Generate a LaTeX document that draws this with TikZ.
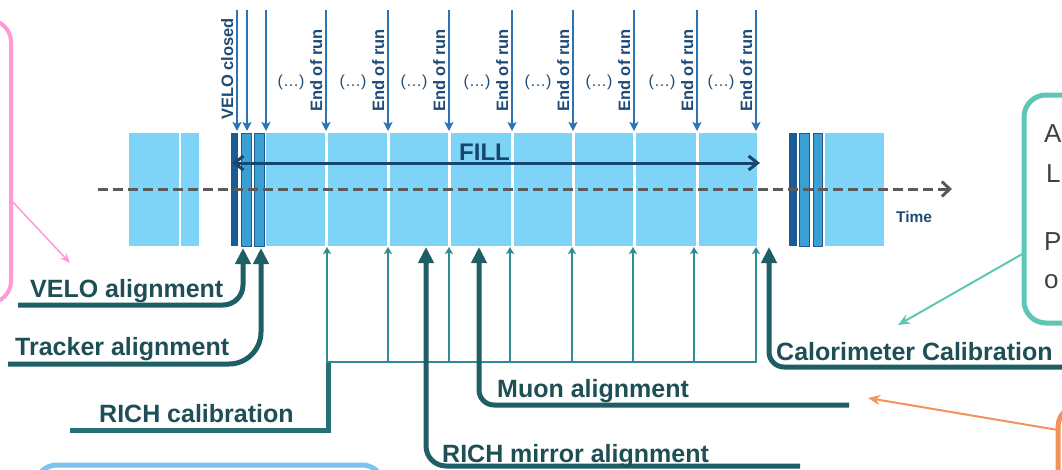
\documentclass[tikz,border=0pt]{standalone}
\usepackage{fontspec}
\setmainfont{Liberation Sans}
\usetikzlibrary{arrows.meta}
\definecolor{lightblk}{HTML}{7ED4F7}
\definecolor{midbar}{HTML}{3A9FD3}
\definecolor{midborder}{HTML}{24588A}
\definecolor{darkbar}{HTML}{1B5C96}
\definecolor{toparrow}{HTML}{2B75B6}
\definecolor{toptext}{HTML}{1F4B78}
\definecolor{fillc}{HTML}{17466F}
\definecolor{dashc}{HTML}{5A5A5A}
\definecolor{thinteal}{HTML}{2E8C92}
\definecolor{thickteal}{HTML}{1F5E64}
\definecolor{labeltext}{HTML}{1E4F55}
\definecolor{pinkc}{HTML}{FF9AD5}
\definecolor{tealbox}{HTML}{5CC7B5}
\definecolor{orangec}{HTML}{F4925B}
\definecolor{bluebox}{HTML}{7DC3EF}
\begin{document}
\begin{tikzpicture}[x=1pt,y=-1pt,
  toparr/.style={draw=toparrow,line width=2.8pt,-{Stealth[length=9pt,width=9pt,inset=2pt]}},
  thinarr/.style={draw=thinteal,line width=2.6pt,-{Stealth[length=7pt,width=8pt,inset=1.5pt]}},
  thickarr/.style={draw=thickteal,line width=5pt,-{Triangle[length=16pt,width=15pt]}},
  rottext/.style={rotate=90,anchor=base west,inner sep=0pt,text=toptext,font=\fontsize{16.5}{18}\selectfont\bfseries},
  dots/.style={inner sep=0pt,text=toptext,font=\fontsize{16}{18}\selectfont},
  lbl/.style={anchor=base west,inner sep=0pt,text=labeltext,font=\fontsize{25}{29}\selectfont\bfseries},
  boxtext/.style={anchor=base west,inner sep=0pt,text=black!75,font=\fontsize{26}{30}\selectfont},
  callout/.style={line width=5pt,rounded corners=22pt}
]
\clip (0,0) rectangle (1062,469);
\fill[white] (0,0) rectangle (1062,469);

% blocks
\fill[lightblk] (129,133) rectangle (199,246);
\draw[white,line width=2pt] (180,133) -- (180,246);
\fill[lightblk] (266,133) rectangle (757,246);
\foreach \x in {326,388,449,512,573,634,697}
  \draw[white,line width=3pt] (\x,133) -- (\x,246);
\fill[darkbar] (231,133) rectangle (238,246);
\filldraw[fill=midbar,draw=midborder,line width=1pt] (241,133) rectangle (251,246);
\filldraw[fill=midbar,draw=midborder,line width=1pt] (254,133) rectangle (264,246);

\fill[darkbar] (789,133) rectangle (797,246);
\filldraw[fill=midbar,draw=midborder,line width=1pt] (799.5,133) rectangle (809,246);
\filldraw[fill=midbar,draw=midborder,line width=1pt] (813,133) rectangle (822.5,246);
\fill[lightblk] (825,133) rectangle (884,246);

% time axis
\coordinate (tstart) at (98,189);
\coordinate (tend) at (952,189);
\draw[dashc,line width=3pt,dash pattern=on 10pt off 5pt,-{Straight Barb[length=8pt,width=15pt]}] (tstart) -- (tend);
\node[anchor=base west,inner sep=0pt,text=toptext,font=\fontsize{15.5}{17}\selectfont\bfseries] (time) at (896,222) {Time};

% FILL
\coordinate (fillL) at (232,163);
\coordinate (fillR) at (760,163);
\draw[fillc,line width=3pt,{Straight Barb[length=9pt,width=14pt]}-{Straight Barb[length=9pt,width=14pt]}] (fillL) -- (fillR);
\node[anchor=base west,inner sep=0pt,text=fillc,font=\fontsize{24}{28}\selectfont\bfseries] (fill) at (459,160) {FILL};

% top arrows
\foreach \x in {237,247,266} \draw[toparr] (\x,10) -- (\x,131);
\node[rottext] (vclosed) at (233,120) {VELO closed};
\foreach \x in {326,388,449,512,573,634,697,756} {
  \draw[toparr] (\x,10) -- (\x,131);
  \node[rottext] at (\x-4,112) {End of run};
  \node[dots] at (\x-35,82) {(…)};
}

% thin teal comb (RICH calibration)
\draw[thickteal!60!thinteal,line width=5pt] (70,430) -- (328,430) -- (328,362);
\draw[thinteal,line width=2.6pt] (327,362) -- (757,362);
\foreach \x in {327,388,449,510,572,633,694,756}
  \draw[thinarr] (\x,363) -- (\x,247);
\node[lbl] (richcal) at (99,422) {RICH calibration};

% thick arrows
\draw[thickarr,rounded corners=20pt] (18,305) -| (243,248);
\node[lbl] (velo) at (30,297) {VELO alignment};
\draw[thickarr,rounded corners=32pt] (8,364) -| (261,248);
\node[lbl] (tracker) at (15,355) {Tracker alignment};
\draw[thickarr,rounded corners=20pt] (800,466) -| (426,247);
\node[lbl] (mirror) at (442,462) {RICH mirror alignment};
\draw[thickarr,rounded corners=15pt] (849,405) -| (479,247);
\node[lbl] (muon) at (497,397) {Muon alignment};
\draw[thickarr,rounded corners=15pt] (1075,367) -| (769,247);
\node[lbl] (calo) at (776,360) {Calorimeter Calibration};

% callout boxes
\draw[pinkc,line width=4pt,rounded corners=22pt] (-100,20) rectangle (11,303);
\coordinate (pinkA) at (11,200);
\coordinate (pinkB) at (70,263);
\draw[pinkc,line width=1.5pt,-{Stealth[length=10pt,width=8pt]}] (pinkA) -- (pinkB);

\draw[tealbox,callout] (1024,95) rectangle (1120,323);
\node[boxtext] (tA) at (1044,142) {A};
\node[boxtext] (tL) at (1046,182) {L};
\node[boxtext] (tP) at (1044,250) {P};
\node[boxtext] (to) at (1044,288) {o};
\coordinate (tealA) at (1024,253);
\coordinate (tealB) at (898,325);
\draw[tealbox,line width=2pt,-{Stealth[length=12pt,width=10pt]}] (tealA) -- (tealB);

\draw[orangec,callout] (1058,405) rectangle (1140,560);
\coordinate (orA) at (1058,430);
\coordinate (orB) at (868,398);
\draw[orangec,line width=2pt,-{Stealth[length=12pt,width=10pt]}] (orA) -- (orB);

\draw[bluebox,callout] (35,465) rectangle (384,560);
\end{tikzpicture}
\end{document}
